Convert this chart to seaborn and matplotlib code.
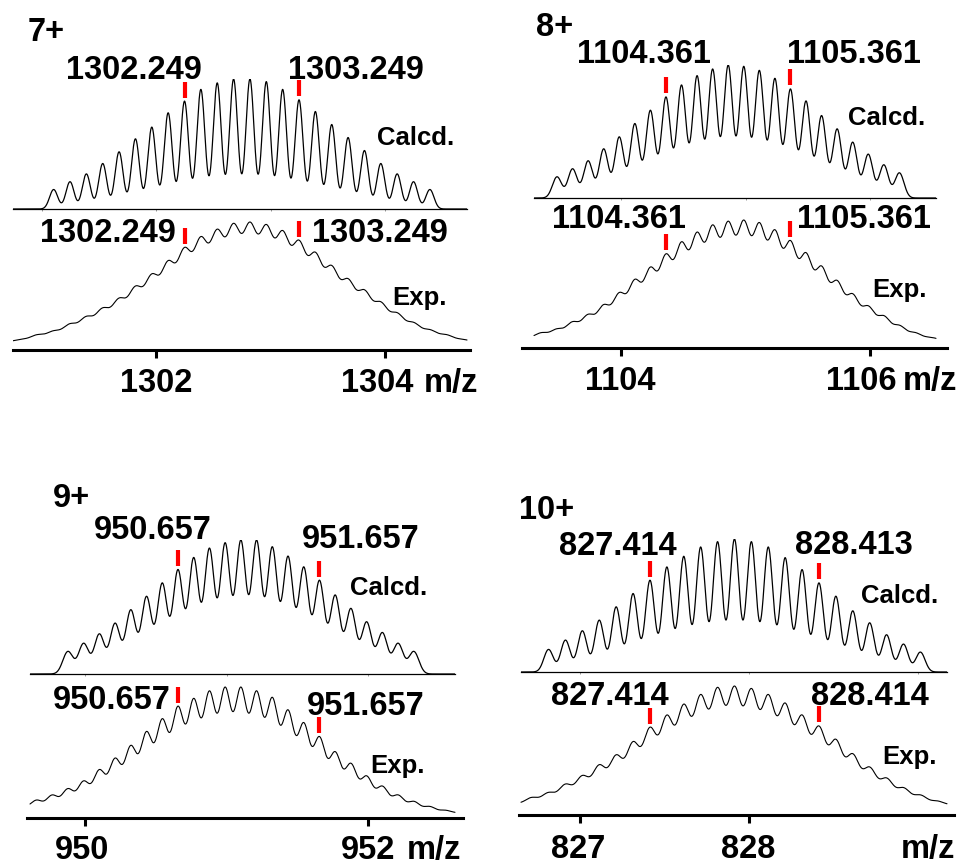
import numpy as np
import matplotlib
matplotlib.use("Agg")
import matplotlib.pyplot as plt
import matplotlib.transforms as mtransforms
import seaborn as sns

sns.set_theme(style="white")
plt.rcParams["font.family"] = ["Liberation Sans", "DejaVu Sans"]
plt.rcParams["font.weight"] = "bold"

# ---------------------------------------------------------------- data
charge_labels = ["7+", "8+", "9+", "10+"]
charges = [7, 8, 9, 10]

# m/z of the isotope peak used as reference (index k = 0)
ref_mz = [1302.249, 1104.361, 950.657, 827.414]

# labelled isotope peaks (calculated / experimental)
calc_marks_7 = [1302.249, 1303.249]
calc_marks_8 = [1104.361, 1105.361]
calc_marks_9 = [950.657, 951.657]
calc_marks_10 = [827.414, 828.413]
exp_marks_7 = [1302.249, 1303.249]
exp_marks_8 = [1104.361, 1105.361]
exp_marks_9 = [950.657, 951.657]
exp_marks_10 = [827.414, 828.414]

# relative intensities of the isotope peaks; first entry sits at k = *_k0
calc_k0 = [-8, -7, -7, -6]
calc_7 = [15, 21, 27, 35, 44, 54, 63, 74, 83, 92, 97, 100, 100, 98, 92, 84,
          75, 65, 55, 45, 35, 27, 21, 15]
calc_8 = [16, 22, 28, 37, 46, 56, 66, 76, 85, 92, 97, 100, 99, 96, 90, 82,
          73, 62, 52, 42, 33, 25, 19]
calc_9 = [17, 23, 30, 38, 48, 58, 68, 78, 87, 94, 98, 100, 100, 95, 88, 80,
          70, 59, 49, 39, 31, 23, 17]
calc_10 = [17, 24, 31, 39, 49, 59, 69, 79, 87, 94, 98, 100, 98, 94, 86, 77,
           67, 57, 46, 37, 28, 21, 15]

exp_k0 = [-11, -9, -10, -8]
exp_7 = [1, 3, 7, 10, 16, 22, 29, 37, 47, 57, 68, 79, 88, 94, 99, 100, 98, 93,
         85, 75, 64, 53, 44, 34, 25, 17, 11, 7, 3, 1]
exp_8 = [3, 7, 10, 16, 22, 30, 40, 51, 61, 72, 82, 90, 96, 99, 100, 98, 92,
         83, 73, 62, 50, 39, 29, 21, 13, 7, 3, 1]
exp_9 = [7, 11, 15, 20, 26, 35, 44, 54, 65, 75, 85, 91, 97, 100, 100, 97, 92,
         82, 72, 61, 49, 40, 30, 22, 15, 10, 6, 3, 1]
exp_10 = [3, 8, 12, 19, 26, 35, 43, 54, 66, 76, 85, 93, 99, 100, 98, 93, 86,
          76, 67, 56, 44, 33, 24, 16, 10, 5, 2]

# labelled axis ticks
ticks_7 = [1302, 1304]
ticks_8 = [1104, 1106]
ticks_9 = [950, 952]
ticks_10 = [827, 828]

calc_sets = [calc_7, calc_8, calc_9, calc_10]
exp_sets = [exp_7, exp_8, exp_9, exp_10]
calc_mark_sets = [calc_marks_7, calc_marks_8, calc_marks_9, calc_marks_10]
exp_mark_sets = [exp_marks_7, exp_marks_8, exp_marks_9, exp_marks_10]
tick_sets = [ticks_7, ticks_8, ticks_9, ticks_10]

# ---------------------------------------------------------------- layout (pixels)
W, H, DPI = 968, 865, 100
panels = [
    dict(tick_px=(156, 385), axis_x=(13, 470), calc_x=(13, 467), calc_base=209,
         calc_h=130, axis_y=350, exp_base=343, exp_h=121,
         calc_peak_w=4.0, exp_peak_w=2.3,
         title=(46, 29),
         calc_lab=[(134, 67), (356, 67)], exp_lab=[(108, 230), (380, 230)],
         calcd=(416, 136), exp=(420, 296), mz=(451, 380), lab_y=380,
         lab_dx=(0, -7.5)),
    dict(tick_px=(621, 870), axis_x=(522, 947), calc_x=(534, 936), calc_base=198,
         calc_h=133, axis_y=348, exp_base=341, exp_h=121,
         calc_peak_w=3.4, exp_peak_w=2.4,
         title=(555, 24),
         calc_lab=[(644, 51), (854, 51)], exp_lab=[(619, 216), (864, 216)],
         calcd=(887, 116), exp=(900, 288), mz=(930, 378), lab_y=378,
         lab_dx=(-1, -8.5)),
    dict(tick_px=(85, 368), axis_x=(27, 463), calc_x=(30, 455), calc_base=674,
         calc_h=134, axis_y=818, exp_base=814, exp_h=127,
         calc_peak_w=3.1, exp_peak_w=2.6,
         title=(72, 495),
         calc_lab=[(153, 527), (361, 536)], exp_lab=[(112, 697), (366, 703)],
         calcd=(389, 586), exp=(398, 764), mz=(434, 847), lab_y=847,
         lab_dx=(-3, 0)),
    dict(tick_px=(580, 749), axis_x=(519, 954), calc_x=(521, 947), calc_base=672,
         calc_h=133, axis_y=815, exp_base=807, exp_h=121,
         calc_peak_w=3.6, exp_peak_w=2.5,
         title=(547, 507),
         calc_lab=[(618, 543), (854, 542)], exp_lab=[(610, 693), (870, 693)],
         calcd=(900, 594), exp=(910, 755), mz=(928, 846), lab_y=846,
         lab_dx=(-1.5, -0.5)),
]

BIG = 23.5
MID = 18.5
CAP = 0.716   # cap height of the sans font, in em


def profile(x, centres, heights, sigma):
    """Sum of Gaussian isotope peaks, scaled so the tallest apex equals max(heights)."""
    y = np.zeros_like(x)
    for c, h in zip(centres, heights):
        y += h * np.exp(-0.5 * ((x - c) / sigma) ** 2)
    return y * (max(heights) / y.max())


def rect(x0, x1, y_top, y_bot):
    return [x0 / W, 1 - y_bot / H, (x1 - x0) / W, (y_bot - y_top) / H]


def ftext(px, py, s, size, **kw):
    # py is the vertical centre of the capitals; place on the baseline below it
    base = py + 0.5 * CAP * size * DPI / 72.0
    fig.text(px / W, 1 - base / H, s, fontsize=size, fontweight="bold",
             ha="center", va="baseline", color="black", **kw)


fig = plt.figure(figsize=(W / DPI, H / DPI), dpi=DPI)

for i, p in enumerate(panels):
    z = charges[i]
    d = 1.0 / z
    (ta, tb) = tick_sets[i]
    pa, pb = p["tick_px"]
    ppu = (pb - pa) / (tb - ta)          # pixels per m/z unit

    def px2mz(px):
        return ta + (px - pa) / ppu

    # ---- experimental spectrum with the m/z axis
    ax_e = fig.add_axes(rect(p["axis_x"][0], p["axis_x"][1], p["calc_base"], p["axis_y"]))
    scale_e = p["exp_h"] / 100.0
    lo = -(p["axis_y"] - p["exp_base"]) / scale_e
    ax_e.set_ylim(lo, lo + (p["axis_y"] - p["calc_base"]) / scale_e)
    ax_e.set_xlim(px2mz(p["axis_x"][0]), px2mz(p["axis_x"][1]))

    # ---- calculated spectrum
    ax_c = fig.add_axes(rect(p["calc_x"][0], p["calc_x"][1],
                             p["calc_base"] - p["calc_h"], p["calc_base"]))
    ax_c.set_ylim(0, 100)
    x0, x1 = px2mz(p["calc_x"][0]), px2mz(p["calc_x"][1])
    ax_c.set_xlim(x0, x1)

    x = np.linspace(x0, x1, 3000)
    ck = np.arange(len(calc_sets[i])) + calc_k0[i]
    ek = np.arange(len(exp_sets[i])) + exp_k0[i]
    y_c = profile(x, ref_mz[i] + ck * d, calc_sets[i], d / p["calc_peak_w"])
    y_e = profile(x, ref_mz[i] + ek * d, exp_sets[i], d / p["exp_peak_w"])

    sns.lineplot(x=x, y=y_c, ax=ax_c, color="black", linewidth=0.9, sort=False)
    sns.lineplot(x=x, y=y_e, ax=ax_e, color="black", linewidth=0.8, sort=False)

    for ax in (ax_c, ax_e):
        ax.set_facecolor("none")
        for s in ("top", "left", "right"):
            ax.spines[s].set_visible(False)
        ax.set_yticks([])
        ax.set_ylabel("")
        ax.set_xlabel("")

    # thin baseline with small unit ticks under the calculated pattern
    ax_c.spines["bottom"].set_linewidth(0.9)
    ax_c.spines["bottom"].set_color("black")
    ax_c.set_xticks(np.arange(np.ceil(x0), np.floor(x1) + 1))
    ax_c.tick_params(axis="x", direction="out", length=1.5, width=0.6,
                     color="#888888", labelbottom=False, bottom=True)

    # heavy m/z axis
    ax_e.spines["bottom"].set_linewidth(2.2)
    ax_e.spines["bottom"].set_color("black")
    ax_e.set_xticks(tick_sets[i])
    ax_e.set_xticklabels([])
    ax_e.tick_params(axis="x", direction="out", length=6, width=2.2,
                     color="black", bottom=True)
    for t, dx in zip(tick_sets[i], p["lab_dx"]):
        ftext(p["tick_px"][0] + (t - ta) * ppu + dx, p["lab_y"], f"{t}", BIG)
    ftext(p["mz"][0], p["mz"][1], "m/z", BIG)

    # red markers above the labelled isotope peaks
    for ax, xs, ys, marks in ((ax_c, x, y_c, calc_mark_sets[i]),
                              (ax_e, x, y_e, exp_mark_sets[i])):
        off = mtransforms.offset_copy(ax.transData, fig=fig, x=0, y=11.5, units="dots")
        for m in marks:
            apex = np.interp(m, xs, ys)
            ax.plot([m], [apex], marker="|", markersize=11, markeredgewidth=3.0,
                    color="#ff0000", transform=off, clip_on=False)

    # texts
    ftext(*p["title"], charge_labels[i], BIG)
    for (lx, ly), m in zip(p["calc_lab"], calc_mark_sets[i]):
        ftext(lx, ly, f"{m:.3f}", BIG)
    for (lx, ly), m in zip(p["exp_lab"], exp_mark_sets[i]):
        ftext(lx, ly, f"{m:.3f}", BIG)
    ftext(*p["calcd"], "Calcd.", MID)
    ftext(*p["exp"], "Exp.", MID)

fig.savefig("out.png", dpi=DPI, facecolor="white")
